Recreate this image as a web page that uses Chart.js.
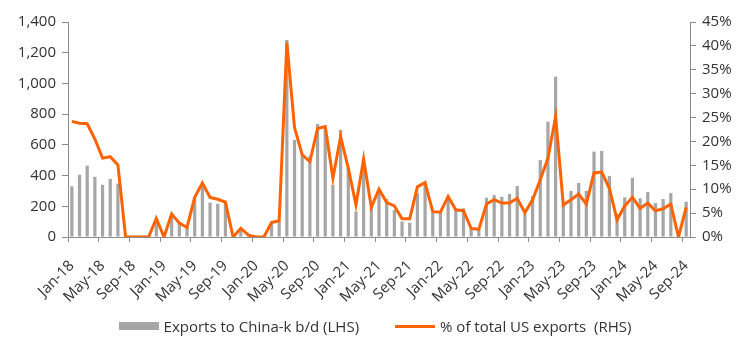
<!DOCTYPE html>
<html lang="en">
<head>
  <meta charset="UTF-8">
  <title>US crude exports to China</title>
  <script src="https://cdn.jsdelivr.net/npm/chart.js"></script>
  <style>
    body { margin: 0; background: #fff; font-family: 'Open Sans', sans-serif; }
    .wrap { position: relative; width: 750px; height: 343px; }
    .legend {
      position: absolute;
      left: 0;
      right: 0;
      top: 316px;
      display: flex;
      justify-content: center;
      gap: 36px;
      font-size: 15px;
      color: #333;
      line-height: 20px;
    }
    .item { display: flex; align-items: center; }
    .swatch { width: 40px; margin-right: 5px; }
    .bar-swatch { height: 8px; background: #a6a6a6; }
    .line-swatch { height: 3px; background: #ff6200; }
  </style>
</head>
<body>
  <div class="wrap">
    <canvas id="chart"></canvas>
    <div class="legend">
      <div class="item"><span class="swatch bar-swatch"></span><span>Exports to China-k b/d (LHS)</span></div>
      <div class="item"><span class="swatch line-swatch"></span><span>% of total US exports&nbsp; (RHS)</span></div>
    </div>
  </div>

  <script>
    const months = [
      'Jan-18','Feb-18','Mar-18','Apr-18','May-18','Jun-18','Jul-18','Aug-18','Sep-18','Oct-18','Nov-18','Dec-18',
      'Jan-19','Feb-19','Mar-19','Apr-19','May-19','Jun-19','Jul-19','Aug-19','Sep-19','Oct-19','Nov-19','Dec-19',
      'Jan-20','Feb-20','Mar-20','Apr-20','May-20','Jun-20','Jul-20','Aug-20','Sep-20','Oct-20','Nov-20','Dec-20',
      'Jan-21','Feb-21','Mar-21','Apr-21','May-21','Jun-21','Jul-21','Aug-21','Sep-21','Oct-21','Nov-21','Dec-21',
      'Jan-22','Feb-22','Mar-22','Apr-22','May-22','Jun-22','Jul-22','Aug-22','Sep-22','Oct-22','Nov-22','Dec-22',
      'Jan-23','Feb-23','Mar-23','Apr-23','May-23','Jun-23','Jul-23','Aug-23','Sep-23','Oct-23','Nov-23','Dec-23',
      'Jan-24','Feb-24','Mar-24','Apr-24','May-24','Jun-24','Jul-24','Aug-24','Sep-24'
    ];

    // k b/d, left axis
    const exportsChina = [
      330, 405, 465, 392, 340, 378, 348, 0, 0, 0, 0, 95,
      0, 130, 85, 65, 252, 339, 224, 216, 228, 0, 46, 12,
      0, 0, 90, 100, 1283, 632, 534, 525, 736, 720, 339, 697,
      450, 165, 445, 189, 290, 247, 176, 100, 93, 287, 341, 160,
      160, 255, 173, 187, 52, 46, 256, 273, 262, 280, 332, 150,
      267, 501, 751, 1044, 205, 300, 352, 300, 556, 560, 398, 150,
      258, 385, 252, 293, 221, 247, 286, 0, 230
    ];

    // % of total US exports, right axis
    const shareOfTotal = [
      24.2, 23.8, 23.7, 20.5, 16.5, 16.8, 15.1, 0, 0, 0, 0, 3.9,
      0, 4.8, 2.9, 2.0, 8.3, 11.3, 8.3, 7.9, 7.3, 0, 1.8, 0.4,
      0, 0, 3.0, 3.4, 40.7, 22.9, 17.2, 15.8, 22.7, 23.1, 12.3, 21.0,
      14.4, 6.7, 16.3, 6.2, 10.0, 7.2, 6.5, 3.8, 3.8, 10.5, 11.4, 5.3,
      5.2, 8.5, 5.7, 5.5, 1.8, 1.6, 6.9, 7.8, 7.1, 7.1, 8.1, 5.1,
      7.8, 12.0, 16.5, 25.2, 6.7, 7.8, 9.0, 6.9, 13.4, 13.6, 10.2, 3.6,
      6.5, 8.3, 6.0, 7.1, 5.5, 5.9, 6.9, 0, 6.2
    ];

    const leftTicks = [0, 200, 400, 600, 800, 1000, 1200, 1400];
    const rightTicks = [0, 5, 10, 15, 20, 25, 30, 35, 40, 45];

    const axisGrey = '#8c8c8c';
    const textColor = '#333333';
    const plotBottom = 237;

    Chart.defaults.font.family = "'Open Sans', sans-serif";
    Chart.defaults.font.size = 15;
    Chart.defaults.color = textColor;

    new Chart(document.getElementById('chart'), {
      data: {
        labels: months,
        datasets: [
          {
            type: 'bar',
            label: 'Exports to China-k b/d (LHS)',
            data: exportsChina,
            backgroundColor: '#a6a6a6',
            barPercentage: 0.42,
            categoryPercentage: 1,
            yAxisID: 'y',
            order: 1
          },
          {
            type: 'line',
            label: '% of total US exports  (RHS)',
            data: shareOfTotal,
            borderColor: '#ff6200',
            backgroundColor: '#ff6200',
            borderWidth: 3,
            pointRadius: 0,
            tension: 0,
            yAxisID: 'y1',
            order: 0
          }
        ]
      },
      options: {
        responsive: true,
        maintainAspectRatio: false,
        animation: false,
        layout: { padding: { top: 22, left: 0, right: 0, bottom: 0 } },
        plugins: {
          tooltip: { enabled: false },
          legend: { display: false }
        },
        scales: {
          x: {
            offset: true,
            afterFit: s => { s.height = s.chart.height - plotBottom; },
            grid: {
              offset: true,
              drawOnChartArea: false,
              tickLength: 5,
              color: ctx => ctx.index % 4 === 0 ? axisGrey : 'transparent'
            },
            border: { display: true, color: axisGrey },
            ticks: {
              autoSkip: false,
              minRotation: 45,
              maxRotation: 45,
              padding: 15,
              callback: (v, i) => i % 4 === 0 ? months[i] : ''
            }
          },
          y: {
            position: 'left',
            min: 0,
            max: 1400,
            afterBuildTicks: s => { s.ticks = leftTicks.map(v => ({ value: v })); },
            afterFit: s => { s.width = 68; },
            grid: { drawOnChartArea: false, tickLength: 6, color: axisGrey },
            border: { display: true, color: axisGrey },
            ticks: {
              padding: 6,
              callback: v => v.toLocaleString('en-US')
            }
          },
          y1: {
            position: 'right',
            min: 0,
            max: 45,
            afterBuildTicks: s => { s.ticks = rightTicks.map(v => ({ value: v })); },
            afterFit: s => { s.width = 60; },
            grid: { drawOnChartArea: false, tickLength: 6, color: axisGrey },
            border: { display: true, color: axisGrey },
            ticks: {
              padding: 6,
              callback: v => v + '%'
            }
          }
        }
      }
    });
  </script>
</body>
</html>
